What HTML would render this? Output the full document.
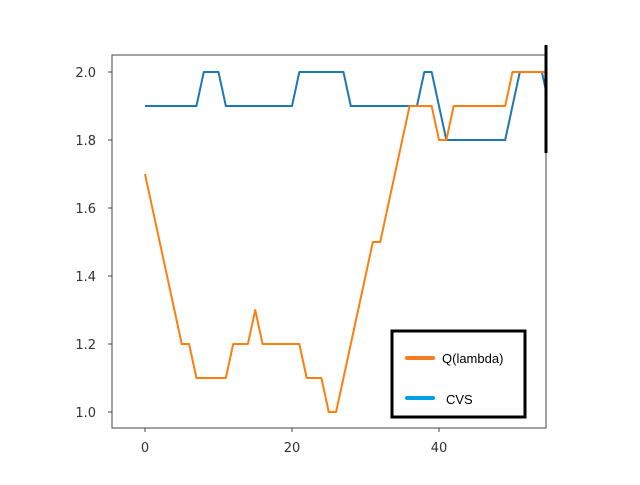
<!DOCTYPE html>
<html><head><meta charset="utf-8"><style>
html,body{margin:0;padding:0;background:#fff;}
svg text{font-family:"DejaVu Sans","Liberation Sans",sans-serif;}
</style></head><body>
<svg width="640" height="480" viewBox="0 0 640 480" xmlns="http://www.w3.org/2000/svg">
<defs><clipPath id="clip"><rect x="112" y="55" width="434" height="373"/></clipPath></defs>
<rect x="112" y="55" width="434" height="373" fill="#fff" stroke="#444" stroke-width="1"/>
<g id="ticks"></g>
<g id="series" clip-path="url(#clip)"></g>
<line x1="546" y1="45" x2="546" y2="153" stroke="#000" stroke-width="3"/>
<g>
<rect x="392" y="331" width="133" height="86" fill="#fff" stroke="#000" stroke-width="3"/>
<line x1="407" y1="358" x2="433" y2="358" stroke="#f47b20" stroke-width="4" stroke-linecap="round"/>
<text x="442" y="363" font-size="13" style='font-family:"Liberation Sans",sans-serif'>Q(lambda)</text>
<line x1="407" y1="398" x2="433" y2="398" stroke="#00a0e6" stroke-width="4" stroke-linecap="round"/>
<text x="446" y="404" font-size="13" style='font-family:"Liberation Sans",sans-serif'>CVS</text>
</g>
</svg>
<script>
const xs = [0,1,2,3,4,5,6,7,8,9,10,11,12,13,14,15,16,17,18,19,20,21,22,23,24,25,26,27,28,29,30,31,32,33,34,35,36,37,38,39,40,41,42,43,44,45,46,47,48,49,50,51,52,53,54,55];
const cvs = [1.9,1.9,1.9,1.9,1.9,1.9,1.9,1.9,2.0,2.0,2.0,1.9,1.9,1.9,1.9,1.9,1.9,1.9,1.9,1.9,1.9,2.0,2.0,2.0,2.0,2.0,2.0,2.0,1.9,1.9,1.9,1.9,1.9,1.9,1.9,1.9,1.9,1.9,2.0,2.0,1.9,1.8,1.8,1.8,1.8,1.8,1.8,1.8,1.8,1.8,1.9,2.0,2.0,2.0,2.0,1.9];
const qlambda = [1.7,1.6,1.5,1.4,1.3,1.2,1.2,1.1,1.1,1.1,1.1,1.1,1.2,1.2,1.2,1.3,1.2,1.2,1.2,1.2,1.2,1.2,1.1,1.1,1.1,1.0,1.0,1.1,1.2,1.3,1.4,1.5,1.5,1.6,1.7,1.8,1.9,1.9,1.9,1.9,1.8,1.8,1.9,1.9,1.9,1.9,1.9,1.9,1.9,1.9,2.0,2.0,2.0,2.0,2.0,2.0];
const xTicks = [0,20,40];
const yTicks = [1.0,1.2,1.4,1.6,1.8,2.0];
const yTickLabels = ["1.0","1.2","1.4","1.6","1.8","2.0"];

const NS = "http://www.w3.org/2000/svg";
function sx(v){ return 145 + v*7.35; }
function sy(v){ return 412 - (v-1.0)*340; }

const tg = document.getElementById('ticks');
xTicks.forEach(function(t){
  const l = document.createElementNS(NS,'line');
  l.setAttribute('x1',sx(t)); l.setAttribute('x2',sx(t));
  l.setAttribute('y1',428); l.setAttribute('y2',432);
  l.setAttribute('stroke','#444');
  
  
  tg.appendChild(l);
  const tx = document.createElementNS(NS,'text');
  tx.setAttribute('x',sx(t)); tx.setAttribute('y',452);
  tx.setAttribute('text-anchor','middle'); tx.setAttribute('font-size','13');
  tx.setAttribute('fill','#333');
  tx.textContent = String(t);
  
  
  tg.appendChild(tx);
});
yTicks.forEach(function(t,i){
  const l = document.createElementNS(NS,'line');
  l.setAttribute('x1',108); l.setAttribute('x2',112);
  l.setAttribute('y1',sy(t)); l.setAttribute('y2',sy(t));
  l.setAttribute('stroke','#444');
  
  
  tg.appendChild(l);
  const tx = document.createElementNS(NS,'text');
  tx.setAttribute('x',96); tx.setAttribute('y',sy(t)+5);
  tx.setAttribute('text-anchor','end'); tx.setAttribute('font-size','13');
  tx.setAttribute('fill','#333');
  tx.textContent = yTickLabels[i];
  
  
  tg.appendChild(tx);
});

const sg = document.getElementById('series');
function drawLine(vals,color,name){
  const p = document.createElementNS(NS,'polyline');
  p.setAttribute('points', vals.map(function(v,i){ return sx(xs[i])+','+sy(v); }).join(' '));
  p.setAttribute('fill','none');
  p.setAttribute('stroke',color);
  p.setAttribute('stroke-width','2');
  p.setAttribute('stroke-linejoin','round');
  
  
  sg.appendChild(p);
}
drawLine(cvs,'#1f77b4','cvs-line');
drawLine(qlambda,'#ff7f0e','q-lambda-line');
</script>
</body></html>
